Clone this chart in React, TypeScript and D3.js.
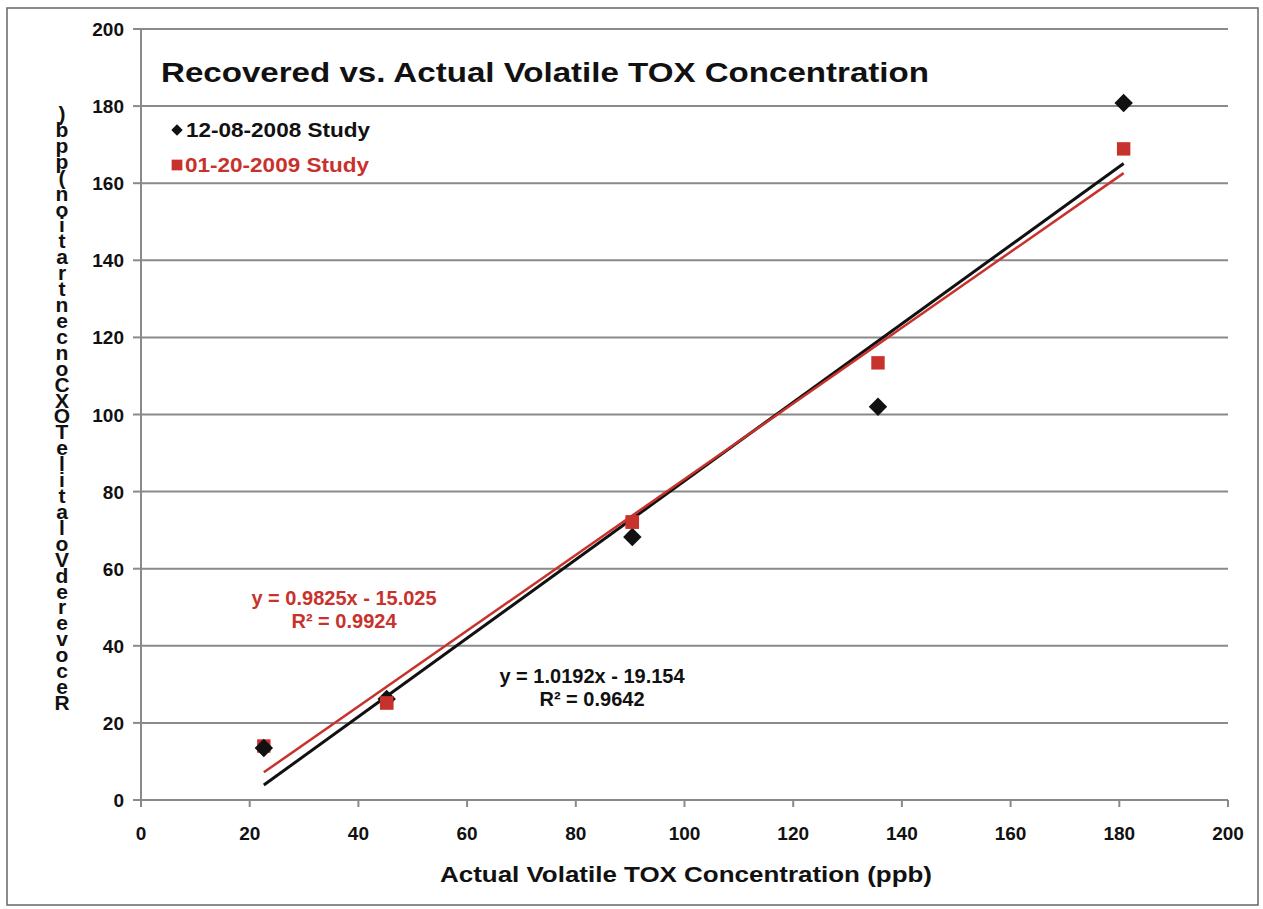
import React from "react";
import * as d3 from "d3";

const actual = [22.6, 45.2, 90.4, 135.6, 180.8];
const study1 = [13.5, 26.2, 68.2, 102.0, 180.8];
const study2 = [14.0, 25.2, 72.1, 113.4, 168.9];
const seriesNames = ["12-08-2008 Study", "01-20-2009 Study"];
const trend1 = [1.0192, -19.154];
const trend2 = [0.9825, -15.025];
const eq1 = ["y = 1.0192x - 19.154", "R² = 0.9642"];
const eq2 = ["y = 0.9825x - 15.025", "R² = 0.9924"];
const xTicks = [0, 20, 40, 60, 80, 100, 120, 140, 160, 180, 200];
const yTicks = [0, 20, 40, 60, 80, 100, 120, 140, 160, 180, 200];
const title = "Recovered vs. Actual Volatile TOX Concentration";
const xTitle = "Actual Volatile TOX Concentration (ppb)";
const yTitle = "Recovered Volatile TOX Concentration (ppb)";

const W = 1263;
const H = 909;
const RED = "#c8322c";
const GRID = "#8a8a8a";
const FONT = "'Liberation Sans', Arial, sans-serif";

export default function App() {
  const x = d3.scaleLinear().domain([0, 200]).range([141, 1228]);
  const y = d3.scaleLinear().domain([0, 200]).range([800, 29]);

  const x0 = actual[0];
  const x1 = actual[actual.length - 1];
  const line = d3
    .line<[number, number]>()
    .x((d) => x(d[0]))
    .y((d) => y(d[1]));
  const t1: [number, number][] = [x0, x1].map((v) => [v, trend1[0] * v + trend1[1]]);
  const t2: [number, number][] = [x0, x1].map((v) => [v, trend2[0] * v + trend2[1]]);

  const diamond = d3.symbol().type(d3.symbolSquare).size(170)();
  const square = d3.symbol().type(d3.symbolSquare).size(180)();

  // vertical stacked y-title, reversed (top: ")" ... bottom: "R")
  const stacked = yTitle.replace(/ /g, "").split("").reverse().join("");

  return (
    <svg
      width={W}
      height={H}
      style={{ position: "absolute", left: 0, top: 0, background: "#fff" }}
      fontFamily={FONT}
    >
      <rect x={0} y={0} width={W} height={H} fill="#fff" />
      <rect x={7} y={8} width={1251} height={897} fill="none" stroke="#666" strokeWidth={1.5} />

      {/* gridlines */}
      {yTicks.filter((t) => t > 0).map((t) => (
        <line key={"g" + t} x1={x(0)} x2={x(200)} y1={y(t)} y2={y(t)} stroke={GRID} strokeWidth={2} />
      ))}
      {/* axes */}
      <line x1={x(0)} x2={x(0)} y1={y(200)} y2={y(0)} stroke={GRID} strokeWidth={2} />
      <line x1={x(0)} x2={x(200)} y1={y(0)} y2={y(0)} stroke={GRID} strokeWidth={2} />
      {yTicks.map((t) => (
        <g key={"yt" + t}>
          <line x1={x(0) - 8} x2={x(0)} y1={y(t)} y2={y(t)} stroke={GRID} strokeWidth={2} />
          <text x={124} y={y(t) + 7} textAnchor="end" fontSize={19} fontWeight="bold" fill="#111">
            {t}
          </text>
        </g>
      ))}
      {xTicks.map((t) => (
        <g key={"xt" + t}>
          <line x1={x(t)} x2={x(t)} y1={y(0)} y2={y(0) + 7} stroke={GRID} strokeWidth={2} />
          <text x={x(t)} y={840} textAnchor="middle" fontSize={19} fontWeight="bold" fill="#111">
            {t}
          </text>
        </g>
      ))}

      {/* title */}
      <text x={161} y={82} fontSize={28} fontWeight="bold" fill="#111" textLength={768} lengthAdjust="spacingAndGlyphs">
        {title}
      </text>

      {/* legend */}
      <path d={diamond} transform={`translate(177,130) rotate(45) scale(0.62)`} fill="#111" />
      <text x={186} y={137} fontSize={20} fontWeight="bold" fill="#111" textLength={184} lengthAdjust="spacingAndGlyphs">
        {seriesNames[0]}
      </text>
      <path d={square} transform={`translate(177,165) scale(0.8)`} fill={RED} />
      <text x={185} y={172} fontSize={20} fontWeight="bold" fill={RED} textLength={184} lengthAdjust="spacingAndGlyphs">
        {seriesNames[1]}
      </text>

      {/* trendlines */}
      <path d={line(t1) || ""} stroke="#111" strokeWidth={3} fill="none" />
      <path d={line(t2) || ""} stroke={RED} strokeWidth={2.5} fill="none" />

      {/* markers */}
      {actual.map((a, i) => (
        <path key={"s2" + i} d={square} transform={`translate(${x(a)},${y(study2[i])})`} fill={RED} />
      ))}
      {actual.map((a, i) => (
        <path key={"s1" + i} d={diamond} transform={`translate(${x(a)},${y(study1[i])}) rotate(45)`} fill="#111" />
      ))}
      {actual.map((a, i) =>
        i === 1 || i === 2 ? (
          <path key={"s2f" + i} d={square} transform={`translate(${x(a)},${y(study2[i])})`} fill={RED} />
        ) : null
      )}

      {/* equations */}
      <text x={344} y={605} textAnchor="middle" fontSize={20} fontWeight="bold" fill={RED}>
        {eq2[0]}
      </text>
      <text x={344} y={628} textAnchor="middle" fontSize={20} fontWeight="bold" fill={RED}>
        {eq2[1]}
      </text>
      <text x={592} y={683} textAnchor="middle" fontSize={20} fontWeight="bold" fill="#111">
        {eq1[0]}
      </text>
      <text x={592} y={706} textAnchor="middle" fontSize={20} fontWeight="bold" fill="#111">
        {eq1[1]}
      </text>

      {/* x title */}
      <text x={686} y={882} textAnchor="middle" fontSize={22} fontWeight="bold" fill="#111" textLength={492} lengthAdjust="spacingAndGlyphs">
        {xTitle}
      </text>

      {/* y title: stacked upright characters in one text */}
      <text
        x={62}
        y={102}
        fontSize={21}
        fontWeight="bold"
        fill="#111"
        textLength={612}
        lengthAdjust="spacing"
        style={{ writingMode: "vertical-rl", textOrientation: "upright" } as React.CSSProperties}
      >
        {stacked}
      </text>
    </svg>
  );
}
